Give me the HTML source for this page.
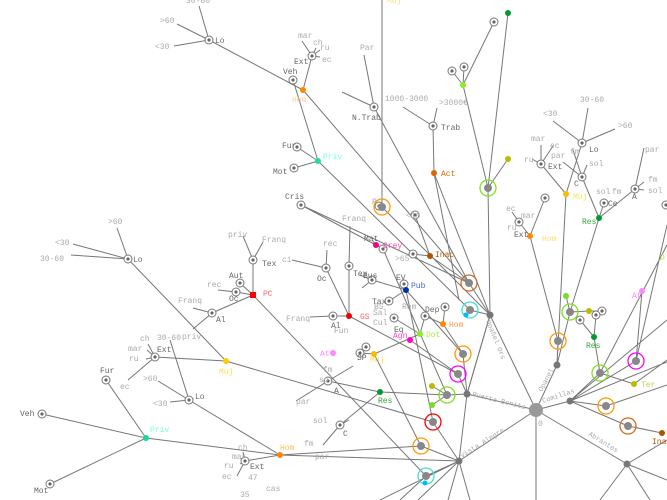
<!DOCTYPE html>
<html><head><meta charset="utf-8"><style>
html,body{margin:0;padding:0;background:#fff;}
svg{display:block;font-family:"Liberation Mono",monospace;font-size:8px;}
.l{stroke:#777;stroke-width:1;fill:none}
.t{fill:#aaa}
.d{fill:#666}
</style></head><body>
<svg width="667" height="500" viewBox="0 0 667 500" xmlns="http://www.w3.org/2000/svg">
<defs>
<g id="cd"><circle r="4" fill="#fff" stroke="#777"/><circle r="1.6" fill="#666"/></g>
</defs>
<g class="l">
<path d="M536 410L467 394M536 410L459 461M536 410L557 365M536 410L570 401M536 410L627 464M536 410L490 315M536 410L536 500"/>
<path d="M490 315L488 188M490 315L469 283M490 315L470 310M490 315L467 394M490 315L434 173M488 188L463 85M488 188L508 13M488 188L508 159M463 85L452 71M463 85L464 67M463 85L494 22"/>
<path d="M469 283L303 90M303 90L209 40M209 40L199 6M209 40L177 24M209 40L174 46M303 90L312 56M312 56L302 41M312 56L316 48M312 56L320 50M312 56L320 57M293 80L318 161M318 161L297 147M318 161L294 168M318 161L470 310M301 205L469 283"/>
<path d="M382 0L382 207M382 207L490 315M364 55L374 107M342 92L374 107M374 107L469 283M434 173L433 126M433 126L403 107M433 126L437 108M434 173L459 300"/>
<path d="M467 394L447 395M467 394L458 374M467 394L463 354M467 394L490 315M467 394L459 461M447 395L432 386M447 395L432 405"/>
<path d="M459 461L433 422M459 461L421 446M459 461L426 476M459 461L470 500M459 461L448 500M459 461L418 500M459 461L380 500M426 476L400 500"/>
<path d="M128 259L117 228M128 259L73 244M128 259L71 255M128 259L226 361M226 361L155 357M155 357L148 344M155 357L147 350M155 357L146 359M155 357L128 380M226 361L433 422"/>
<path d="M146 438L42 414M146 438L106 380M146 438L50 484M146 438L280 455M189 400L170 340M189 400L158 381M189 400L170 402M189 400L280 455M280 455L245 461M245 461L243 452M245 461L240 458M245 461L240 464M245 461L237 476M280 455L421 446M280 455L459 461"/>
<path d="M253 295L253 260M253 260L243 236M253 260L263 242M253 295L240 283M253 295L236 292M236 292L218 290M253 295L212 313M212 313L193 308M212 313L193 329M253 295L426 476"/>
<path d="M349 316L333 316M333 316L310 317M349 316L349 266M349 266L350 226M349 316L458 374M326 268L292 260M326 268L327 250M326 268L349 316"/>
<path d="M301 205L376 245M376 245L372 240M376 245L383 249M383 249L447 395M372 280L406 290M406 290L404 284M406 290L389 301M406 290L433 422M406 290L463 354M413 254L430 256M430 256L415 215M430 256L469 283M372 280L360 275M372 280L362 288"/>
<path d="M420 334L374 354M420 334L425 316M443 324L425 316M443 324L445 307M443 324L463 354M410 340L458 374M394 318L420 334M374 354L360 353M374 354L421 446M380 392L340 425M340 425L323 445M340 425L349 420M328 381L296 401M328 381L353 366M328 381L380 392M380 392L447 395"/>
<path d="M557 365L558 341M557 365L570 312M557 365L566 194M566 194L582 143M582 143L553 121M582 143L588 108M582 143L615 129M566 194L541 164M541 164L532 159M541 164L541 145M541 164L553 146M570 312L599 218M599 218L582 177M582 177L563 162M582 177L587 165M582 177L573 150M599 218L604 203M599 218L635 189M635 189L644 148M635 189L644 182M635 189L644 190M570 312L589 311M589 311L602 311M570 312L566 296M558 341L530 236M530 236L519 222M519 222L512 212M530 236L545 198"/>
<path d="M570 401L600 373M570 401L606 406M570 401L628 426M570 401L636 361M570 401L667 320M570 401L667 362M600 373L594 337M594 337L580 320M594 337L596 315M600 373L634 384M634 384L667 360M636 361L642 291M636 361L667 225M606 406L667 385M628 426L662 433M600 373L667 245M627 464L667 440M627 464L667 480M627 464L600 500M627 464L650 500"/>
</g>
<g>
<use href="#cd" x="209" y="40"/><use href="#cd" x="293" y="80"/><use href="#cd" x="312" y="56"/><use href="#cd" x="297" y="147"/><use href="#cd" x="294" y="168"/><use href="#cd" x="301" y="205"/><use href="#cd" x="374" y="107"/><use href="#cd" x="433" y="126"/><use href="#cd" x="452" y="71"/><use href="#cd" x="464" y="67"/><use href="#cd" x="494" y="22"/><use href="#cd" x="582" y="143"/><use href="#cd" x="541" y="164"/><use href="#cd" x="582" y="177"/><use href="#cd" x="604" y="203"/><use href="#cd" x="635" y="189"/><use href="#cd" x="545" y="198"/><use href="#cd" x="519" y="222"/><use href="#cd" x="666" y="205"/>
<use href="#cd" x="128" y="259"/><use href="#cd" x="155" y="357"/><use href="#cd" x="189" y="400"/><use href="#cd" x="106" y="380"/><use href="#cd" x="42" y="414"/><use href="#cd" x="50" y="484"/><use href="#cd" x="245" y="461"/><use href="#cd" x="253" y="260"/><use href="#cd" x="240" y="283"/><use href="#cd" x="236" y="292"/><use href="#cd" x="212" y="313"/><use href="#cd" x="333" y="316"/><use href="#cd" x="349" y="266"/><use href="#cd" x="326" y="268"/><use href="#cd" x="383" y="249"/><use href="#cd" x="372" y="280"/><use href="#cd" x="404" y="284"/><use href="#cd" x="389" y="301"/><use href="#cd" x="413" y="254"/><use href="#cd" x="415" y="215"/><use href="#cd" x="425" y="316"/><use href="#cd" x="445" y="307"/><use href="#cd" x="394" y="318"/><use href="#cd" x="360" y="353"/><use href="#cd" x="366" y="347"/><use href="#cd" x="328" y="381"/><use href="#cd" x="340" y="425"/><use href="#cd" x="602" y="311"/><use href="#cd" x="580" y="320"/><use href="#cd" x="596" y="315"/><use href="#cd" x="379" y="206"/>
</g>
<g stroke-width="1.3" fill="none">
<circle cx="382" cy="207" r="8" stroke="#f90"/><circle cx="469" cy="283" r="8" stroke="#d2691e"/><circle cx="470" cy="310" r="8" stroke="#40e0d0"/><circle cx="488" cy="188" r="8" stroke="#7fdf20"/><circle cx="463" cy="354" r="8" stroke="#f90"/><circle cx="458" cy="374" r="8" stroke="#f0f"/><circle cx="447" cy="395" r="8" stroke="#7fdf20"/><circle cx="433" cy="422" r="8" stroke="#f00"/><circle cx="421" cy="446" r="8" stroke="#f90"/><circle cx="426" cy="476" r="8" stroke="#40e0d0"/><circle cx="558" cy="341" r="8" stroke="#f90"/><circle cx="570" cy="312" r="8" stroke="#7fdf20"/><circle cx="600" cy="373" r="8" stroke="#7fdf20"/><circle cx="636" cy="361" r="8" stroke="#f0f"/><circle cx="606" cy="406" r="8" stroke="#f90"/><circle cx="628" cy="426" r="8" stroke="#d2691e"/>
</g>
<g fill="#888">
<circle cx="382" cy="207" r="4"/><circle cx="469" cy="283" r="4"/><circle cx="470" cy="310" r="4"/><circle cx="488" cy="188" r="4"/><circle cx="463" cy="354" r="4"/><circle cx="458" cy="374" r="4"/><circle cx="447" cy="395" r="4"/><circle cx="433" cy="422" r="4"/><circle cx="421" cy="446" r="4"/><circle cx="426" cy="476" r="4"/><circle cx="558" cy="341" r="4"/><circle cx="570" cy="312" r="4"/><circle cx="600" cy="373" r="4"/><circle cx="636" cy="361" r="4"/><circle cx="606" cy="406" r="4"/><circle cx="628" cy="426" r="4"/>
<circle cx="536" cy="410" r="7" fill="#999"/>
<circle cx="467" cy="394" r="3.5" fill="#777"/><circle cx="459" cy="461" r="3.5" fill="#777"/><circle cx="557" cy="365" r="3.5" fill="#777"/><circle cx="570" cy="401" r="3.5" fill="#777"/><circle cx="627" cy="464" r="3.5" fill="#777"/><circle cx="490" cy="315" r="3.5" fill="#777"/>
</g>
<g>
<circle cx="303" cy="90" r="3" fill="#f80"/><circle cx="318" cy="161" r="3" fill="#2d9"/><circle cx="434" cy="173" r="3" fill="#d60"/><circle cx="463" cy="85" r="3" fill="#8e2"/><circle cx="508" cy="13" r="3" fill="#093"/><circle cx="508" cy="159" r="3" fill="#bb0"/><circle cx="566" cy="194" r="3" fill="#fb0"/><circle cx="599" cy="218" r="3" fill="#093"/><circle cx="530" cy="236" r="3" fill="#f80"/><circle cx="226" cy="361" r="3" fill="#fc0"/><circle cx="146" cy="438" r="3" fill="#1d9"/><circle cx="280" cy="455" r="3" fill="#f80"/><rect x="250" y="292" width="6" height="6" fill="#f00"/><circle cx="349" cy="316" r="3" fill="#e00"/><circle cx="376" cy="245" r="3" fill="#e08"/><circle cx="406" cy="290" r="3" fill="#03a"/><circle cx="430" cy="256" r="3" fill="#a50"/><circle cx="420" cy="334" r="3" fill="#8e2"/><circle cx="410" cy="340" r="3" fill="#f0c"/><circle cx="443" cy="324" r="3" fill="#f80"/><circle cx="374" cy="354" r="3" fill="#fb0"/><circle cx="380" cy="392" r="3" fill="#093"/><circle cx="333" cy="353" r="3" fill="#f8f"/><circle cx="432" cy="386" r="3" fill="#bb0"/><circle cx="432" cy="405" r="3" fill="#7d2"/><circle cx="466" cy="315" r="2.5" fill="#0bf"/><circle cx="425" cy="483" r="2.5" fill="#0bf"/><circle cx="589" cy="311" r="3" fill="#bb0"/><circle cx="566" cy="296" r="3" fill="#7d2"/><circle cx="594" cy="337" r="3" fill="#093"/><circle cx="642" cy="291" r="3" fill="#f8f"/><circle cx="634" cy="384" r="3" fill="#bb0"/><circle cx="662" cy="433" r="3" fill="#a50"/>
</g>
<g class="t">
<text x="186" y="3">30-60</text><text x="160" y="23">&gt;60</text><text x="155" y="49">&lt;30</text><text x="298" y="38">mar</text><text x="313" y="45">ch</text><text x="320" y="50">ru</text><text x="322" y="62">ec</text><text x="360" y="50">Par</text><text x="385" y="101">1000-3000</text><text x="439" y="105">&gt;3000€</text>
<text x="543" y="116">&lt;30</text><text x="580" y="102">30-60</text><text x="618" y="128">&gt;60</text><text x="531" y="141">mar</text><text x="550" y="148">ec</text><text x="524" y="162">ru</text><text x="551" y="158">par</text><text x="570" y="154">fm</text><text x="589" y="166">sol</text><text x="596" y="194">sol</text><text x="612" y="194">fm</text><text x="645" y="152">par</text><text x="648" y="182">fm</text><text x="648" y="193">sol</text><text x="506" y="211">ec</text><text x="521" y="218">mar</text><text x="507" y="230">ru</text>
<text x="108" y="224">&gt;60</text><text x="55" y="245">&lt;30</text><text x="40" y="261">30-60</text><text x="228" y="237">priv</text><text x="262" y="242">Franq</text><text x="207" y="287">rec</text><text x="178" y="303">Franq</text><text x="182" y="339">priv</text><text x="157" y="340">30-60</text><text x="140" y="341">ch</text><text x="128" y="351">mar</text><text x="129" y="361">ru</text><text x="120" y="389">ec</text><text x="143" y="381">&gt;60</text><text x="153" y="406">&lt;30</text><text x="238" y="450">ch</text><text x="232" y="459">mar</text><text x="224" y="468">ru</text><text x="222" y="479">ec</text><text x="248" y="480">47</text><text x="266" y="491">cas</text><text x="240" y="497">35</text>
<text x="342" y="221">Franq</text><text x="323" y="246">rec</text><text x="282" y="262">ci</text><text x="286" y="321">Franq</text><text x="374" y="309">BS</text><text x="402" y="309">Rem</text><text x="373" y="315">Sal</text><text x="373" y="325">Cul</text><text x="334" y="333">Fun</text><text x="319" y="382">sol</text><text x="323" y="372">fm</text><text x="296" y="404">par</text><text x="313" y="423">sol</text><text x="304" y="446">fm</text><text x="315" y="459">par</text><text x="395" y="261">&gt;65</text><text x="406" y="218">&lt;16</text><text x="372" y="204">P</text><text x="538" y="426">0</text>
</g>
<g class="d">
<text x="215" y="43">Lo</text><text x="283" y="74">Veh</text><text x="294" y="64">Ext</text><text x="282" y="148">Fur</text><text x="273" y="174">Mot</text><text x="285" y="199">Cris</text><text x="352" y="120">N.Trab</text><text x="441" y="130">Trab</text><text x="589" y="152">Lo</text><text x="548" y="169">Ext</text><text x="574" y="186">C</text><text x="608" y="206">Ce</text><text x="632" y="199">A</text><text x="514" y="237">Ext</text>
<text x="133" y="262">Lo</text><text x="157" y="352">Ext</text><text x="195" y="399">Lo</text><text x="100" y="373">Fur</text><text x="20" y="416">Veh</text><text x="34" y="493">Mot</text><text x="250" y="469">Ext</text><text x="262" y="266">Tex</text><text x="229" y="278">Aut</text><text x="229" y="301">Oc</text><text x="216" y="322">Al</text><text x="331" y="328">Al</text><text x="317" y="281">Oc</text><text x="363" y="278">Bus</text><text x="353" y="276">Tex</text><text x="396" y="280">EV</text><text x="372" y="304">Tax</text><text x="425" y="312">Dep</text><text x="394" y="332">Eq</text><text x="364" y="241">Mat</text><text x="357" y="360">SP</text><text x="334" y="393">A</text><text x="343" y="436">C</text>
</g>
<g>
<text x="292" y="102" fill="#fc9">Hom</text><text x="323" y="159" fill="#7fe">Priv</text><text x="387" y="3" fill="#fd7">Muj</text><text x="441" y="176" fill="#d60">Act</text><text x="573" y="199" fill="#fd5">Muj</text><text x="582" y="224" fill="#3a3">Res</text><text x="542" y="241" fill="#fd7">Hom</text>
<text x="219" y="374" fill="#fd5">Muj</text><text x="150" y="432" fill="#7fd">Priv</text><text x="280" y="450" fill="#fb5">Hom</text><text x="263" y="296" fill="#f66">PC</text><text x="360" y="319" fill="#f66">GS</text><text x="383" y="248" fill="#f4a">Crey</text><text x="411" y="288" fill="#46d">Pub</text><text x="435" y="257" fill="#a50">Inac</text><text x="426" y="337" fill="#ae4">Dot</text><text x="393" y="338" fill="#f4c">Agn</text><text x="449" y="327" fill="#f95">Hom</text><text x="370" y="362" fill="#fd5">Muj</text><text x="378" y="403" fill="#3a3">Res</text><text x="320" y="356" fill="#f8f">At</text>
<text x="586" y="348" fill="#3a3">Res</text><text x="632" y="298" fill="#f8f">At</text><text x="641" y="387" fill="#cc5">Ter</text><text x="652" y="444" fill="#a50">Inac</text><text x="660" y="260" fill="#ae4">D</text>
</g>
<g fill="#aaa" font-size="7">
<text transform="translate(472,396) rotate(14)">Puerta Bonita</text>
<text transform="translate(462,458) rotate(-32)">Vista Alegre</text>
<text transform="translate(542,392) rotate(-62)">Opanel</text>
<text transform="translate(543,403) rotate(-18)">Comillas</text>
<text transform="translate(588,435) rotate(32)">Abrantes</text>
<text transform="translate(486,321) rotate(68)">Opañel Ors</text>
</g>
</svg>
</body></html>
